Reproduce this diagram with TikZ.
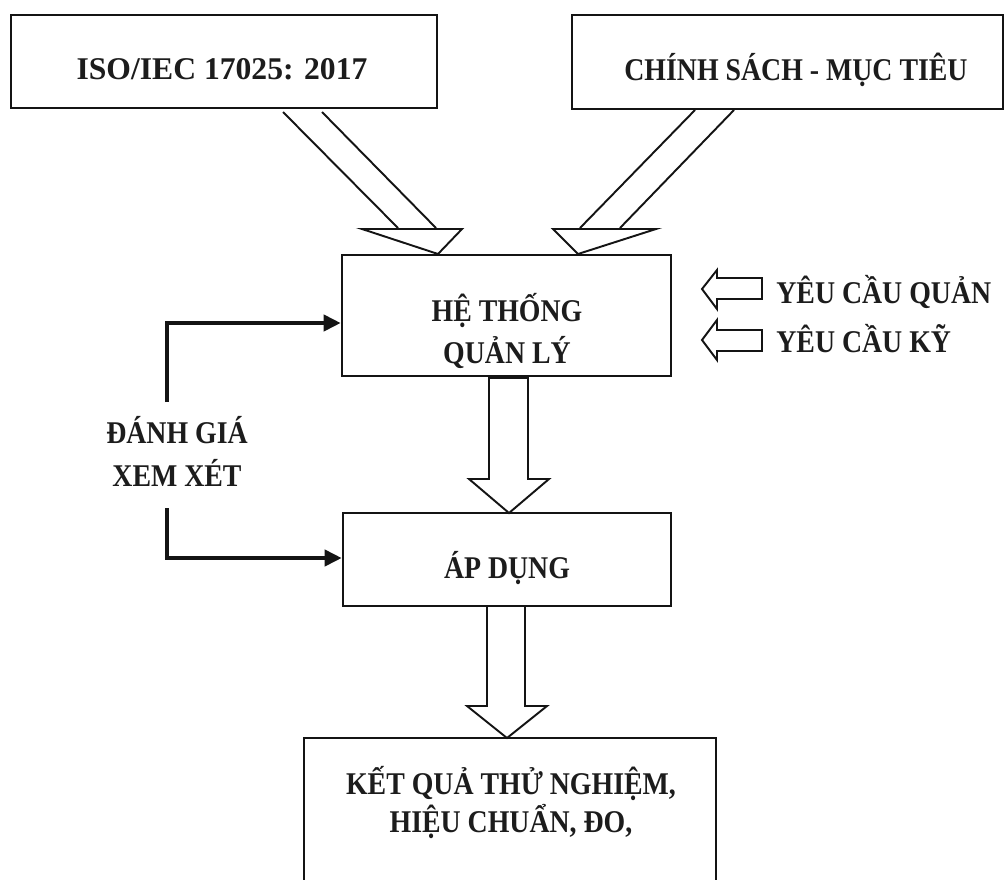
\documentclass[tikz,border=0pt]{standalone}
\usepackage{fontspec}
\setmainfont{Liberation Serif}
\newfontfamily\narrowfont[FakeStretch=0.88]{Liberation Serif}
\usepackage{xcolor}
\definecolor{Ink}{RGB}{28,28,28}
\definecolor{Line}{RGB}{20,20,20}
\usepackage{tikz}
\usetikzlibrary{arrows.meta}
\tikzstyle{Box}=[draw=Line,line width=1.5pt,inner sep=0pt]
\tikzstyle{Label}=[text=Ink,font=\narrowfont\bfseries\fontsize{18}{23}\selectfont,
align=center,inner sep=0pt,anchor=base]
\tikzstyle{Block}=[draw=Line,line width=1.1pt,line join=miter]
\tikzstyle{Feed}=[draw=Line,line width=2.2pt,
-{Triangle[length=0.34cm,width=0.32cm]}]

\begin{document}
\begin{tikzpicture}[x=0.02cm,y=-0.02cm]
        \useasboundingbox(0,0)rectangle(1007,879);
        \node[Box,minimum width=8.52cm,minimum height=1.86cm](iso)at(224,61.5){};
        \node[Box,minimum width=8.62cm,minimum height=1.88cm](cs)at(787.5,62){};
        \node[Box,minimum width=6.58cm,minimum height=2.42cm](ht)at(506.5,315.5){};
        \node[Box,minimum width=6.56cm,minimum height=1.86cm](ad)at(507,559.5){};
        \node[Box,minimum width=8.24cm,minimum height=3.24cm](kq)at(510,819){};
        \node[Label,font=\bfseries\fontsize{18}{23}\selectfont](isot)at(222,79){ISO/IEC 17025: 2017};
        \node[Label](cst)at(796,80){CHÍNH SÁCH - MỤC TIÊU};
        \node[Label,font=\narrowfont\bfseries\fontsize{18}{23.5}\selectfont](htt)at(507,363){HỆ THỐNG\\QUẢN LÝ};
        \node[Label](adt)at(507,578){ÁP DỤNG};
        \node[Label,font=\narrowfont\bfseries\fontsize{18}{21.5}\selectfont](kqt)at(511,832){KẾT QUẢ THỬ NGHIỆM,\\HIỆU CHUẨN, ĐO,};
        \node[Label,font=\narrowfont\bfseries\fontsize{18}{24}\selectfont](ev)at(177,486){ĐÁNH GIÁ\\XEM XÉT};
        \node[Label,anchor=base west](ql)at(776,303){YÊU CẦU QUẢN};
        \node[Label,anchor=base west](kt)at(776,352){YÊU CẦU KỸ};
        % block arrows
        \draw[Block](283,112)--(398,228);
        \draw[Block](322,112)--(436,228);
        \draw[Block](362,229)--(462,229)--(438,254)--cycle;
        \draw[Block](695,110)--(580,228);
        \draw[Block](734,110)--(620,228);
        \draw[Block](553,229)--(656,229)--(578,254)--cycle;
        \draw[Block](489,378)--(489,479)--(469,479)--(509,513)--(549,479)--(528,479)--(528,378)--cycle;
        \draw[Block](487,606)--(487,706)--(467,706)--(507,738)--(547,706)--(525,706)--(525,606)--cycle;
        \draw[Block](762,278)--(717,278)--(717,270)--(702,289)--(717,309)--(717,299)--(762,299)--cycle;
        \draw[Block](762,330)--(717,330)--(717,320)--(702,340)--(717,360)--(717,351)--(762,351)--cycle;
        % review loop
        \coordinate(fb1)at(167,402);
        \coordinate(fb2)at(167,508);
        \draw[Feed](fb1)|-([yshift=-0.15cm]ht.west);
        \draw[Feed](fb2)|-([yshift=0.03cm]ad.west);
    \end{tikzpicture}
\end{document}
